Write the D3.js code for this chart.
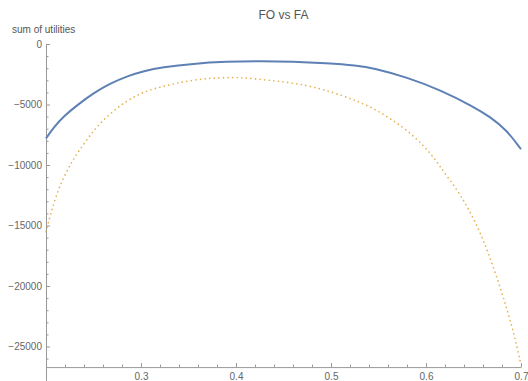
<!DOCTYPE html>
<html>
<head>
<meta charset="utf-8">
<script src="https://cdn.jsdelivr.net/npm/d3@7"></script>
<style>
  html, body { margin: 0; padding: 0; background: #fff; }
  svg { display: block; font-family: "Liberation Sans", Arial, sans-serif; }
</style>
</head>
<body>
<svg id="svg" width="528" height="381"></svg>
<script>
const $svg = d3.select('#svg')

// values
const xFO = [0.200, 0.208, 0.219, 0.233, 0.250, 0.268, 0.286, 0.303, 0.322, 0.355, 0.390, 0.425, 0.460, 0.495, 0.527, 0.545, 0.580, 0.615, 0.650, 0.667, 0.685, 0.700]
const yFO = [-7800, -6900, -5950, -5050, -4050, -3250, -2640, -2230, -1930, -1620, -1460, -1400, -1450, -1590, -1780, -2000, -2750, -3800, -5180, -6000, -7110, -8700]

const xFA = [0.200, 0.205, 0.212, 0.219, 0.226, 0.233, 0.244, 0.254, 0.268, 0.286, 0.303, 0.321, 0.355, 0.390, 0.408, 0.425, 0.460, 0.488, 0.510, 0.527, 0.545, 0.562, 0.580, 0.597, 0.608, 0.615, 0.625, 0.636, 0.653, 0.667, 0.681, 0.692, 0.700]
const yFA = [-15500, -14000, -12200, -10970, -9900, -9000, -7800, -6780, -5700, -4630, -3940, -3530, -2920, -2750, -2780, -2920, -3190, -3660, -4210, -4700, -5320, -6140, -7110, -8350, -9370, -10140, -11240, -12400, -14800, -17500, -20800, -23700, -26500]

const xTicks = [0.3, 0.4, 0.5, 0.6, 0.7]
const xMinor = d3.range(0.22, 0.7, 0.02).filter(v => Math.abs(v * 10 - Math.round(v * 10)) > 0.01)
const yTicks = [0, -5000, -10000, -15000, -20000, -25000]
const yMinor = d3.range(-1000, -27000, -1000).filter(v => v % 5000 !== 0)

const TITLE = 'FO vs FA'
const Y_LABEL = 'sum of utilities'

const xScale = d3.scaleLinear().domain([0.2, 0.7]).range([46, 521])
const yScale = d3.scaleLinear().domain([-27800, 0]).range([380.4, 44])
const xAxisAt = -26700

const axisColor = '#999'
const labelColor = '#666'

const styleAxis = $g => {
	$g.select('.domain').attr('stroke', axisColor)
	$g.selectAll('.tick line').attr('stroke', axisColor)
	$g.selectAll('.tick text').attr('fill', labelColor).attr('font-size', 10).attr('font-family', null)
}

// y axis
$svg.append('g')
	.attr('transform', `translate(${xScale(0.2)},0)`)
	.call(d3.axisLeft(yScale).tickValues(yMinor).tickSize(-2.5).tickSizeOuter(0).tickFormat(''))
	.call($g => $g.select('.domain').remove())
	.call(styleAxis)

$svg.append('g')
	.attr('transform', `translate(${xScale(0.2)},0)`)
	.call(d3.axisLeft(yScale).tickValues(yTicks).tickSize(-4).tickSizeOuter(0).tickPadding(4).tickFormat(d3.format('d')))
	.call(styleAxis)

// x axis
$svg.append('g')
	.attr('transform', `translate(0,${yScale(xAxisAt)})`)
	.call(d3.axisBottom(xScale).tickValues(xMinor).tickSize(-2.5).tickSizeOuter(0).tickFormat(''))
	.call($g => $g.select('.domain').remove())
	.call(styleAxis)

$svg.append('g')
	.attr('transform', `translate(0,${yScale(xAxisAt)})`)
	.call(d3.axisBottom(xScale).tickValues(xTicks).tickSize(-4).tickSizeOuter(0).tickPadding(6).tickFormat(d3.format('.1f')))
	.call(styleAxis)

const generateLine = d3.line()
	.x(d => xScale(d[0]))
	.y(d => yScale(d[1]))
	.curve(d3.curveBasis)

$svg.append('path')
	.datum(d3.zip(xFA, yFA))
	.attr('fill', 'none')
	.attr('stroke', '#E19C24')
	.attr('stroke-width', 1.7)
	.attr('stroke-linecap', 'round')
	.attr('stroke-dasharray', '0 4.6')
	.attr('opacity', 0.8)
	.attr('d', generateLine)

$svg.append('path')
	.datum(d3.zip(xFO, yFO))
	.attr('fill', 'none')
	.attr('stroke', '#5E81B5')
	.attr('stroke-width', 2)
	.attr('d', generateLine)

$svg.append('text')
	.attr('x', (xScale(0.2) + xScale(0.7)) / 2)
	.attr('y', 19)
	.attr('text-anchor', 'middle')
	.attr('font-size', 12)
	.attr('fill', '#555')
	.text(TITLE)

$svg.append('text')
	.attr('x', 12)
	.attr('y', 33)
	.attr('font-size', 10)
	.attr('fill', '#555')
	.text(Y_LABEL)
</script>
</body>
</html>
